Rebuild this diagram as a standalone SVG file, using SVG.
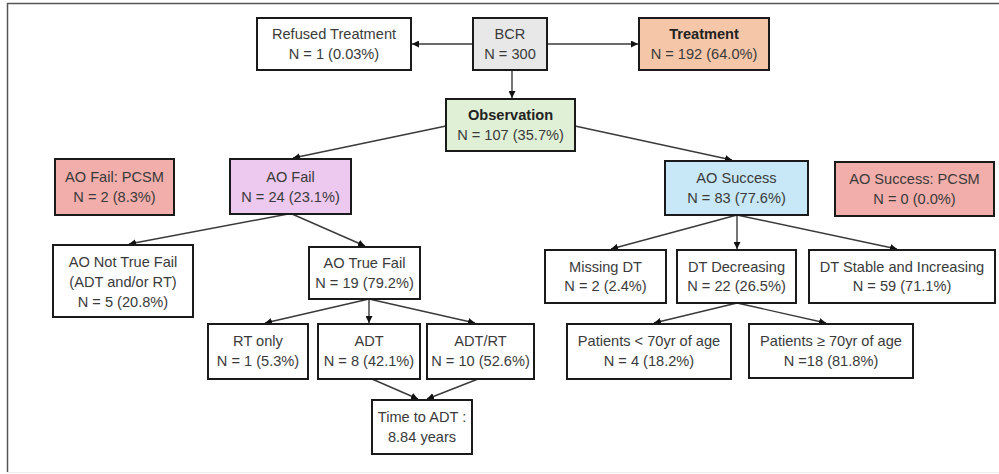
<svg xmlns="http://www.w3.org/2000/svg" width="999" height="474" viewBox="0 0 999 474">
<defs>
<marker id="ah" viewBox="0 0 10 10" refX="10" refY="5" markerWidth="7" markerHeight="7" markerUnits="userSpaceOnUse" orient="auto">
<path d="M0,0 L10,5 L0,10 z" fill="#111"/>
</marker>
<style>
.box{stroke:#1a1a1a;stroke-width:2;fill:#fff}
.t{font-family:"Liberation Sans",Arial,sans-serif;font-size:14.6px;fill:#3a3a3a;text-anchor:middle}
.b{font-weight:bold;fill:#222}
.c{stroke:#3a3a3a;stroke-width:1.4;fill:none;marker-end:url(#ah)}
</style>
</defs>
<rect x="0" y="0" width="999" height="474" fill="#fff"/>
<g id="frame">
<line x1="7" y1="3.5" x2="999" y2="3.5" stroke="#555" stroke-width="1.5"/>
<line x1="7.5" y1="3" x2="7.5" y2="472" stroke="#555" stroke-width="1.5"/>
<line x1="7" y1="472.5" x2="999" y2="472.5" stroke="#ececec" stroke-width="1"/>
</g>
<g id="connectors">
<line class="c" x1="473" y1="44" x2="412" y2="44"/>
<line class="c" x1="547" y1="44" x2="638" y2="44"/>
<line class="c" x1="512" y1="70" x2="512" y2="98"/>
<line class="c" x1="446" y1="126" x2="293" y2="158"/>
<line class="c" x1="575" y1="126" x2="732" y2="160"/>
<line class="c" x1="288" y1="214" x2="129" y2="244"/>
<line class="c" x1="292" y1="214" x2="365" y2="246"/>
<line class="c" x1="369" y1="299" x2="265" y2="323"/>
<line class="c" x1="369" y1="299" x2="369" y2="323"/>
<line class="c" x1="369" y1="299" x2="475" y2="323"/>
<line class="c" x1="372" y1="379" x2="418" y2="399"/>
<line class="c" x1="478" y1="379" x2="427" y2="399"/>
<line class="c" x1="737" y1="215" x2="611" y2="249"/>
<line class="c" x1="737" y1="215" x2="737" y2="249"/>
<line class="c" x1="737" y1="215" x2="897" y2="249"/>
<line class="c" x1="737" y1="303" x2="654" y2="323"/>
<line class="c" x1="737" y1="303" x2="826" y2="323"/>
</g>
<g id="refused">
<rect class="box" x="257" y="18" width="154" height="52"/>
<text class="t" x="334" y="39">Refused Treatment</text>
<text class="t" x="334" y="58.5">N = 1 (0.03%)</text>
</g>
<g id="bcr">
<rect class="box" x="473" y="18" width="74" height="52" style="fill:#e8e8e8"/>
<text class="t" x="510" y="39">BCR</text>
<text class="t" x="510" y="58.5">N = 300</text>
</g>
<g id="treatment">
<rect class="box" x="639" y="18" width="130" height="52" style="fill:#f6c6a8"/>
<text class="t b" x="704" y="39">Treatment</text>
<text class="t" x="704" y="58.5">N = 192 (64.0%)</text>
</g>
<g id="observation">
<rect class="box" x="446" y="99" width="129" height="52" style="fill:#e0f0d6"/>
<text class="t b" x="510.5" y="120">Observation</text>
<text class="t" x="510.5" y="139.5">N = 107 (35.7%)</text>
</g>
<g id="aofail-pcsm">
<rect class="box" x="55" y="159" width="119" height="56" style="fill:#f2aeab"/>
<text class="t" x="114.5" y="182">AO Fail: PCSM</text>
<text class="t" x="114.5" y="201.5">N = 2 (8.3%)</text>
</g>
<g id="aofail">
<rect class="box" x="230" y="159" width="121" height="55" style="fill:#edc9ef"/>
<text class="t" x="290.5" y="182">AO Fail</text>
<text class="t" x="290.5" y="201.5">N = 24 (23.1%)</text>
</g>
<g id="aosuccess">
<rect class="box" x="665" y="161" width="143" height="54" style="fill:#c8e8f7"/>
<text class="t" x="736.5" y="183">AO Success</text>
<text class="t" x="736.5" y="202.5">N = 83 (77.6%)</text>
</g>
<g id="aosuccess-pcsm">
<rect class="box" x="835" y="162" width="159" height="54" style="fill:#f2aeab"/>
<text class="t" x="914.5" y="184">AO Success: PCSM</text>
<text class="t" x="914.5" y="203.5">N = 0 (0.0%)</text>
</g>
<g id="notrue">
<rect class="box" x="53" y="245" width="140" height="72"/>
<text class="t" x="123" y="267">AO Not True Fail</text>
<text class="t" x="123" y="287">(ADT and/or RT)</text>
<text class="t" x="123" y="307">N = 5 (20.8%)</text>
</g>
<g id="truefail">
<rect class="box" x="309" y="247" width="111" height="52"/>
<text class="t" x="364.5" y="268">AO True Fail</text>
<text class="t" x="364.5" y="287.5">N = 19 (79.2%)</text>
</g>
<g id="missingdt">
<rect class="box" x="545" y="250" width="121" height="53"/>
<text class="t" x="605.5" y="271.5">Missing DT</text>
<text class="t" x="605.5" y="291">N = 2 (2.4%)</text>
</g>
<g id="dtdec">
<rect class="box" x="677" y="250" width="119" height="53"/>
<text class="t" x="736.5" y="271.5">DT Decreasing</text>
<text class="t" x="736.5" y="291">N = 22 (26.5%)</text>
</g>
<g id="dtstable">
<rect class="box" x="809" y="250" width="186" height="53"/>
<text class="t" x="902" y="271.5">DT Stable and Increasing</text>
<text class="t" x="902" y="291">N = 59 (71.1%)</text>
</g>
<g id="rtonly">
<rect class="box" x="208" y="324" width="100" height="55"/>
<text class="t" x="258" y="346">RT only</text>
<text class="t" x="258" y="365.5">N = 1 (5.3%)</text>
</g>
<g id="adt">
<rect class="box" x="318" y="324" width="102" height="55"/>
<text class="t" x="369" y="346">ADT</text>
<text class="t" x="369" y="365.5">N = 8 (42.1%)</text>
</g>
<g id="adtrt">
<rect class="box" x="427" y="324" width="107" height="55"/>
<text class="t" x="480.5" y="346">ADT/RT</text>
<text class="t" x="480.5" y="365.5">N = 10 (52.6%)</text>
</g>
<g id="timeadt">
<rect class="box" x="372" y="400" width="100" height="54"/>
<text class="t" x="422" y="422">Time to ADT :</text>
<text class="t" x="422" y="441.5">8.84 years</text>
</g>
<g id="young">
<rect class="box" x="567" y="324" width="164" height="55"/>
<text class="t" x="649" y="346">Patients &lt; 70yr of age</text>
<text class="t" x="649" y="365.5">N = 4 (18.2%)</text>
</g>
<g id="old">
<rect class="box" x="749" y="324" width="164" height="54"/>
<text class="t" x="831" y="346">Patients ≥ 70yr of age</text>
<text class="t" x="831" y="365.5">N =18 (81.8%)</text>
</g>
</svg>
